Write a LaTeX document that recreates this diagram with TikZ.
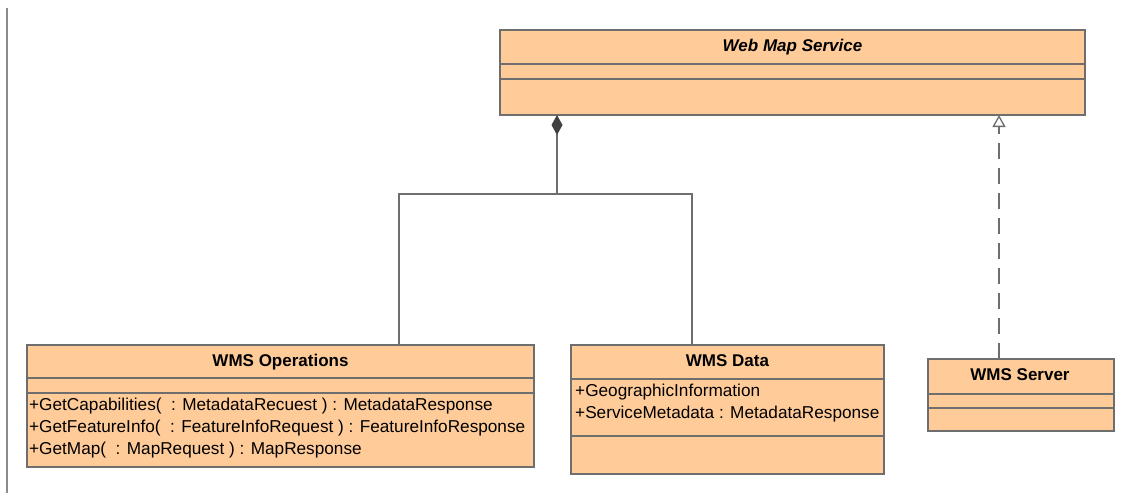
\documentclass[tikz,border=0pt]{standalone}
\usepackage{fontspec}
\setmainfont{Liberation Sans}
\usetikzlibrary{arrows.meta}
\definecolor{peach}{HTML}{FFCC99}
\definecolor{edge}{HTML}{6E6E6E}
\definecolor{dark}{HTML}{404040}
\definecolor{margin}{HTML}{8A8A8A}
\begin{document}
\begin{tikzpicture}[x=1pt,y=-1pt,
  cls/.style={draw=edge, fill=peach, line width=1.3pt, inner sep=0pt, outer sep=0pt, anchor=north west},
  sep/.style={draw=edge, line width=1.3pt},
  title/.style={font=\fontsize{17}{20}\selectfont\bfseries, anchor=base, inner sep=0pt},
  member/.style={font=\fontsize{17.2}{20}\selectfont, anchor=base west, inner sep=0pt},
  conn/.style={draw=edge, line width=1.3pt},
]
\useasboundingbox (0,0) rectangle (1124,495);
\draw[draw=margin, line width=1.3pt] (7,8) -- (7,493);

% Web Map Service
\node[cls, minimum width=585pt, minimum height=85pt] (wms) at (500,30) {};
\draw[sep] (500,64) -- (1085,64);
\draw[sep] (500,79) -- (1085,79);
\node[title] (wmsT) at (792.5,52) {\itshape Web Map Service};

% WMS Operations
\node[cls, minimum width=507pt, minimum height=122pt] (ops) at (27,345) {};
\draw[sep] (27,378) -- (534,378);
\draw[sep] (27,393) -- (534,393);
\node[title] (opsT) at (280.5,366) {WMS Operations};
\node[member] (op1) at (29,410) {+GetCapabilities(\ \ : MetadataRecuest ) : MetadataResponse};
\node[member] (op2) at (29,432) {+GetFeatureInfo(\ \ : FeatureInfoRequest ) : FeatureInfoResponse};
\node[member] (op3) at (29,454) {+GetMap(\ \ : MapRequest ) : MapResponse};

% WMS Data
\node[cls, minimum width=313pt, minimum height=129pt] (data) at (571,345) {};
\draw[sep] (571,379) -- (884,379);
\draw[sep] (571,436) -- (884,436);
\node[title] (dataT) at (727.5,366) {WMS Data};
\node[member] (d1) at (575,396) {+GeographicInformation};
\node[member] (d2) at (575,418) {+ServiceMetadata : MetadataResponse};

% WMS Server
\node[cls, minimum width=186pt, minimum height=72pt] (srv) at (928,359) {};
\draw[sep] (928,394) -- (1114,394);
\draw[sep] (928,408) -- (1114,408);
\node[title] (srvT) at (1020,380) {WMS Server};

% connectors
\coordinate (j) at (557,194);
\coordinate (opsIn) at (399,345);
\coordinate (dataIn) at (692,345);
\coordinate (srvIn) at (999,359);
\draw[conn, {Diamond[length=20pt,width=11pt,fill=dark,color=dark]}-] (wms.south -| j) -- (j);
\draw[conn] (opsIn) |- (j) -| (dataIn);
\draw[conn, dash pattern=on 16pt off 9pt, -{Triangle[open, length=12pt, width=13pt, fill=white]}] (srvIn) -- (wms.south -| srvIn);
\end{tikzpicture}
\end{document}
